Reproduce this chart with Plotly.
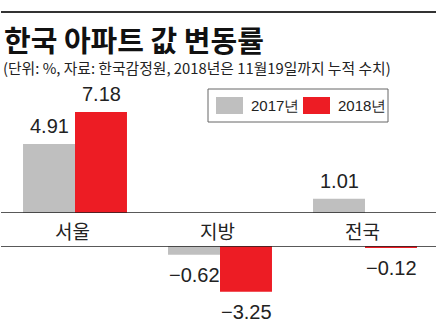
import plotly.graph_objects as go

categories = ["서울", "지방", "전국"]
series_names = ["2017년", "2018년"]
values_2017 = [4.91, -0.62, 1.01]
values_2018 = [7.18, -3.25, -0.12]
colors = ["#bfbfbf", "#ed1c24"]

title = "한국 아파트 값 변동률"
subtitle = "(단위: %, 자료: 한국감정원, 2018년은 11월19일까지 누적 수치)"

W, H = 436, 327
def px(x):
    return x / W
def py(y):
    return 1 - y / H

NUM_FONT = "Liberation Sans, Arial, sans-serif"
KR_FONT = "Noto Sans CJK KR, sans-serif"

fig = go.Figure()
for name, vals, col in zip(series_names, [values_2017, values_2018], colors):
    pos = [v if v >= 0 else None for v in vals]
    neg = [v if v < 0 else None for v in vals]
    fig.add_trace(go.Bar(
        x=categories, y=pos, name=name, marker_color=col, marker_line_width=0,
        xaxis="x", yaxis="y", showlegend=False, offsetgroup=name,
    ))
    fig.add_trace(go.Bar(
        x=categories, y=neg, name=name, marker_color=col, marker_line_width=0,
        xaxis="x", yaxis="y2", showlegend=False, offsetgroup=name,
    ))

scale = 14.07  # px per unit
top_zero, bot_zero = 213, 246
fig.update_layout(
    width=W, height=H, margin=dict(l=0, r=0, t=0, b=0),
    paper_bgcolor="white", plot_bgcolor="white",
    barmode="group", bargap=0.283, bargroupgap=0,
    xaxis=dict(domain=[0, 1], range=[-75 / 145, (W - 75) / 145], visible=False,
               anchor="y", type="category"),
    yaxis=dict(domain=[py(top_zero), py(80)], range=[0, (top_zero - 80) / scale], visible=False),
    yaxis2=dict(domain=[0, py(bot_zero)], range=[-(H - bot_zero) / scale, 0], visible=False,
                anchor="x"),
    showlegend=False,
)

shapes = []
annotations = []

# value labels
half = 26
for i, vals in enumerate([values_2017, values_2018]):
    shift = -half if i == 0 else half
    for c, v in zip(categories, vals):
        if v >= 0:
            annotations.append(dict(text=f"{v:.2f}", x=c, y=v, xref="x", yref="y",
                                    xshift=shift, yshift=5, xanchor="center", yanchor="bottom",
                                    showarrow=False,
                                    font=dict(family=NUM_FONT, size=20, color="#222")))
        else:
            annotations.append(dict(text="\u2212" + f"{abs(v):.2f}", x=c, y=v, xref="x", yref="y2",
                                    xshift=shift, yshift=-7, xanchor="center", yanchor="top",
                                    showarrow=False,
                                    font=dict(family=NUM_FONT, size=20, color="#222")))

# top rule
shapes.append(dict(type="line", xref="paper", yref="paper", x0=px(1), x1=1, y0=py(12), y1=py(12),
                   line=dict(color="#333", width=2)))
# zero lines
shapes.append(dict(type="line", xref="paper", yref="y", x0=px(1), x1=1, y0=0, y1=0,
                   line=dict(color="#222", width=1.5)))
shapes.append(dict(type="line", xref="paper", yref="y2", x0=px(1), x1=1, y0=0, y1=0,
                   line=dict(color="#222", width=1.5)))
# legend box
shapes.append(dict(type="rect", xref="paper", yref="paper", x0=px(208), x1=px(388), y0=py(122), y1=py(89),
                   line=dict(color="#666", width=1), fillcolor="white"))
leg_x = [216, 303]
for i, (name, col) in enumerate(zip(series_names, colors)):
    x0 = leg_x[i]
    shapes.append(dict(type="rect", xref="paper", yref="paper", x0=px(x0), x1=px(x0 + 27),
                       y0=py(114), y1=py(97), line=dict(width=0), fillcolor=col))
    annotations.append(dict(text=name, xref="paper", yref="paper", x=px(x0 + 33), y=py(105.5),
                            xanchor="left", yanchor="middle", showarrow=False,
                            font=dict(family=NUM_FONT, size=15, color="#222")))

annotations.append(dict(text=f"<b>{title}</b>", xref="paper", yref="paper", x=px(2), y=py(39),
                        xanchor="left", yanchor="middle", showarrow=False,
                        font=dict(family=KR_FONT, size=29, color="#111")))
annotations.append(dict(text=subtitle, xref="paper", yref="paper", x=px(1), y=py(67),
                        xanchor="left", yanchor="middle", showarrow=False,
                        font=dict(family=KR_FONT, size=14.8, color="#222")))
for c in categories:
    annotations.append(dict(text=c, x=c, xref="x", yref="paper", y=py(230), xshift=-3,
                            xanchor="center", yanchor="middle", showarrow=False,
                            font=dict(family=KR_FONT, size=19, color="#222")))

fig.update_layout(shapes=shapes, annotations=annotations)
fig.write_html("out.html")
